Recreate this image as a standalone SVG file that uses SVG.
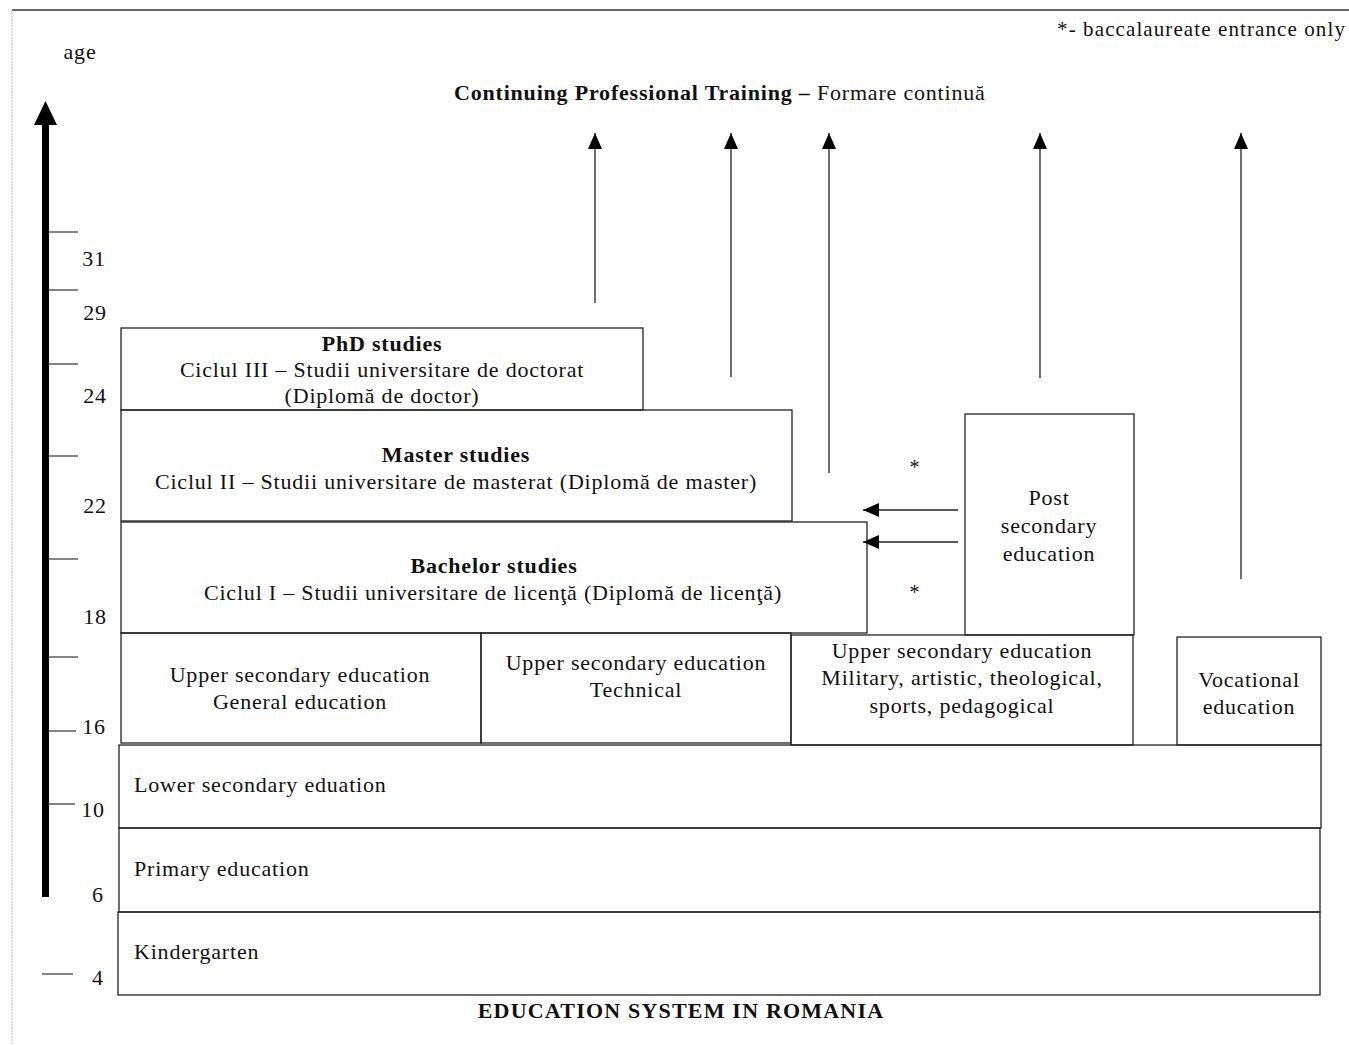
<svg xmlns="http://www.w3.org/2000/svg" width="1349" height="1045" viewBox="0 0 1349 1045">
<defs>
<style>
text{font-family:"Liberation Serif","Times New Roman",serif;font-size:22px;fill:#111;letter-spacing:0.8px}
.c{text-anchor:middle}
.b{font-weight:bold}
.box{fill:none;stroke:#222;stroke-width:1.3}
.ln{stroke:#222;stroke-width:1.3;fill:none}
.tk{stroke:#333;stroke-width:1.2}
</style>
<marker id="ah" viewBox="0 0 16 14" refX="16" refY="7" markerWidth="16" markerHeight="14" markerUnits="userSpaceOnUse" orient="auto">
<path d="M0,0 L16,7 L0,14 z" fill="#000"/>
</marker>
</defs>
<rect width="1349" height="1045" fill="#fff"/>
<line x1="12" y1="10" x2="1349" y2="10" stroke="#333" stroke-width="1.5"/>
<line x1="12" y1="10" x2="12" y2="1045" stroke="#bbb" stroke-width="1" stroke-dasharray="2,1"/>

<g id="axis">
<text x="80" y="59" class="c">age</text>
<rect x="42" y="122" width="7" height="775" fill="#000"/>
<path d="M45.5,101 L57,125 L34,125 z" fill="#000"/>
<line class="tk" x1="48" y1="232" x2="78" y2="232"/>
<line class="tk" x1="48" y1="290" x2="78" y2="290"/>
<line class="tk" x1="48" y1="364" x2="78" y2="364"/>
<line class="tk" x1="48" y1="456" x2="78" y2="456"/>
<line class="tk" x1="48" y1="559" x2="78" y2="559"/>
<line class="tk" x1="48" y1="657" x2="78" y2="657"/>
<line class="tk" x1="48" y1="731" x2="76" y2="731"/>
<line class="tk" x1="48" y1="804" x2="75" y2="804"/>
<line class="tk" x1="42" y1="974" x2="73" y2="974"/>
<text x="94" y="266" class="c">31</text>
<text x="95" y="320" class="c">29</text>
<text x="95" y="403" class="c">24</text>
<text x="95" y="513" class="c">22</text>
<text x="95" y="624" class="c">18</text>
<text x="94" y="734" class="c">16</text>
<text x="93" y="817" class="c">10</text>
<text x="98" y="902" class="c">6</text>
<text x="98" y="985" class="c">4</text>
</g>

<text x="1346" y="36" text-anchor="end" style="font-size:21px;letter-spacing:1.1px">*- baccalaureate entrance only</text>
<text x="454" y="100"><tspan class="b">Continuing Professional Training –</tspan> Formare continuă</text>

<g id="phd">
<rect class="box" x="121" y="328" width="522" height="82"/>
<text x="382" y="351" class="c b">PhD studies</text>
<text x="382" y="377" class="c">Ciclul III – Studii universitare de doctorat</text>
<text x="382" y="403" class="c">(Diplomă de doctor)</text>
</g>
<g id="master">
<rect class="box" x="121" y="410" width="671" height="111"/>
<text x="456" y="462" class="c b">Master studies</text>
<text x="456" y="489" class="c">Ciclul II – Studii universitare de masterat (Diplomă de master)</text>
</g>
<g id="bachelor">
<rect class="box" x="121" y="522" width="746" height="111"/>
<text x="494" y="573" class="c b">Bachelor studies</text>
<text x="493" y="600" class="c">Ciclul I – Studii universitare de licenţă (Diplomă de licenţă)</text>
</g>
<g id="postsec">
<rect class="box" x="965" y="414" width="169" height="221"/>
<text x="1049" y="505" class="c">Post</text>
<text x="1049" y="533" class="c">secondary</text>
<text x="1049" y="561" class="c">education</text>
</g>
<g id="upper-general">
<rect class="box" x="121" y="633" width="360" height="110"/>
<text x="300" y="682" class="c">Upper secondary education</text>
<text x="300" y="709" class="c">General education</text>
</g>
<g id="upper-technical">
<rect class="box" x="481" y="633" width="310" height="110"/>
<text x="636" y="670" class="c">Upper secondary education</text>
<text x="636" y="697" class="c">Technical</text>
</g>
<g id="upper-military">
<rect class="box" x="791" y="635" width="342" height="110"/>
<text x="962" y="658" class="c">Upper secondary education</text>
<text x="962" y="685" class="c">Military, artistic, theological,</text>
<text x="962" y="713" class="c">sports, pedagogical</text>
</g>
<g id="vocational">
<rect class="box" x="1177" y="637" width="144" height="108"/>
<text x="1249" y="687" class="c">Vocational</text>
<text x="1249" y="714" class="c">education</text>
</g>
<g id="lower">
<rect class="box" x="119" y="745" width="1202" height="83"/>
<text x="134" y="792">Lower secondary eduation</text>
</g>
<g id="primary">
<rect class="box" x="119" y="828" width="1201" height="84"/>
<text x="134" y="876">Primary education</text>
</g>
<g id="kindergarten">
<rect class="box" x="118" y="912" width="1202" height="83"/>
<text x="134" y="959">Kindergarten</text>
</g>

<text x="915" y="474" class="c" style="font-size:20px">*</text>
<text x="915" y="599" class="c" style="font-size:20px">*</text>

<g id="connectors">
<line class="ln" x1="595" y1="303" x2="595" y2="133" marker-end="url(#ah)"/>
<line class="ln" x1="731" y1="377" x2="731" y2="133" marker-end="url(#ah)"/>
<line class="ln" x1="829" y1="473" x2="829" y2="133" marker-end="url(#ah)"/>
<line class="ln" x1="1040" y1="378" x2="1040" y2="133" marker-end="url(#ah)"/>
<line class="ln" x1="1241" y1="579" x2="1241" y2="133" marker-end="url(#ah)"/>
<line class="ln" x1="958" y1="510" x2="863" y2="510" marker-end="url(#ah)"/>
<line class="ln" x1="958" y1="542" x2="863" y2="542" marker-end="url(#ah)"/>
</g>

<text x="681" y="1018" class="c b" style="letter-spacing:1.2px">EDUCATION SYSTEM IN ROMANIA</text>
</svg>
